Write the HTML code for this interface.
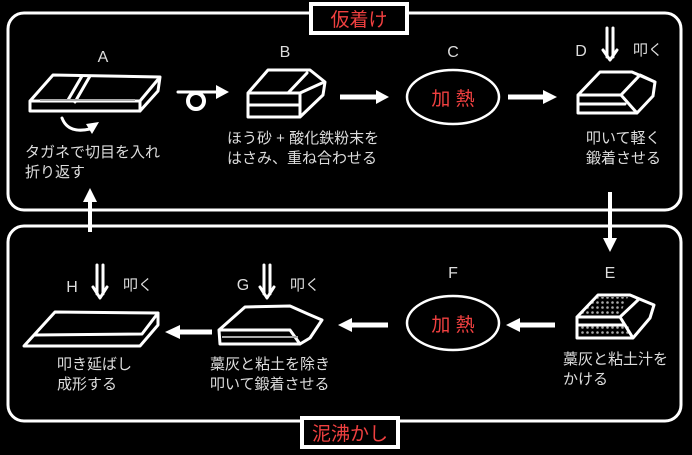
<!DOCTYPE html>
<html><head><meta charset="utf-8"><style>
html,body{margin:0;padding:0;background:#000;}
svg{display:block;}
text{font-family:"Liberation Sans","Noto Sans CJK JP",sans-serif;}
.t{fill:#ddd;font-size:15px;}
.l{fill:#ddd;font-size:16px;}
.r{fill:#f04040;font-size:19px;}
.s{fill:none;stroke:#fff;stroke-width:3;stroke-linejoin:round;stroke-linecap:round;}
</style></head><body>
<svg width="692" height="455" viewBox="0 0 692 455" xmlns="http://www.w3.org/2000/svg">
<defs>
<pattern id="dots" width="5" height="5" patternUnits="userSpaceOnUse"><circle cx="2.5" cy="2.5" r="1.3" fill="#aaa"/></pattern>
</defs>
<rect x="0" y="0" width="692" height="455" fill="#000"/>
<rect x="8" y="13" width="673" height="197" rx="16" fill="none" stroke="#fff" stroke-width="3"/>
<rect x="8" y="226" width="673" height="195" rx="16" fill="none" stroke="#fff" stroke-width="3"/>
<rect x="311" y="4" width="96" height="29" fill="#000" stroke="#fff" stroke-width="4"/>
<text class="r" x="359" y="26" text-anchor="middle">仮着け</text>
<rect x="302" y="418" width="96" height="29" fill="#000" stroke="#fff" stroke-width="4"/>
<text class="r" x="350" y="440" text-anchor="middle">泥沸かし</text>

<line x1="90" y1="232" x2="90" y2="200" stroke="#fff" stroke-width="4"/>
<polygon points="83,202 97,202 90,188" fill="#fff"/>
<line x1="610" y1="192" x2="610" y2="240" stroke="#fff" stroke-width="4"/>
<polygon points="603,238 617,238 610,252" fill="#fff"/>

<!-- A -->
<text class="l" x="103" y="62" text-anchor="middle">A</text>
<path class="s" d="M30,101 L53,75 L160,77 L140,101 Z M30,101 L30,111 L140,111 L140,101 M140,111 L158,91 L160,77"/>
<path class="s" d="M82,76 L68,100 M90,76 L75,102"/>
<line x1="40" y1="100" x2="135" y2="100" stroke="#aaa" stroke-width="2"/>
<path class="s" d="M62,118 Q68,134 90,129"/>
<polygon points="86,124 99,122 92,134" fill="#fff"/>
<text class="t" x="25" y="157">タガネで切目を入れ</text>
<text class="t" x="25" y="177">折り返す</text>

<path class="s" d="M178,92 L220,92" stroke-width="4"/>
<circle cx="196" cy="101" r="8" fill="none" stroke="#fff" stroke-width="4"/>
<polygon points="216,85 229,92 216,99" fill="#fff"/>

<!-- B -->
<text class="l" x="285" y="57" text-anchor="middle">B</text>
<path class="s" d="M248,93 L268,70 L310,70 L325,82 L323,95 L300,117 L248,117 Z M248,93 L300,93 L300,117 M248,105 L300,105 M300,93 L322,83 M288,93 L307,73"/>
<text class="t" x="227" y="143">ほう砂 + 酸化鉄粉末を</text>
<text class="t" x="227" y="163">はさみ、重ね合わせる</text>
<line x1="340" y1="97" x2="378" y2="97" stroke="#fff" stroke-width="5"/>
<polygon points="376,90 389,97 376,104" fill="#fff"/>

<!-- C -->
<text class="l" x="453" y="57" text-anchor="middle">C</text>
<ellipse cx="453" cy="97" rx="46" ry="27" fill="none" stroke="#fff" stroke-width="2.5"/>
<text class="r" x="453" y="105" text-anchor="middle">加 熱</text>
<line x1="508" y1="97" x2="545" y2="97" stroke="#fff" stroke-width="5"/>
<polygon points="543,90 557,97 543,104" fill="#fff"/>

<!-- D -->
<text class="l" x="581" y="56" text-anchor="middle">D</text>
<path class="s" d="M607,28 L607,57 M613,28 L613,57 M603,50 L610,60 L617,50"/>
<text class="t" x="633" y="55">叩く</text>
<path class="s" d="M578,95 L600,72 L632,72 L655,82 L653,96 L637,113 L578,113 Z M578,95 L621,95 L637,113 M578,104 L625,104 M621,95 L640,75 L655,82"/>
<text class="t" x="586" y="143">叩いて軽く</text>
<text class="t" x="586" y="163">鍛着させる</text>

<!-- E -->
<text class="l" x="610" y="278" text-anchor="middle">E</text>
<path d="M579,316 L598,297 L628,297 L619,316 Z" fill="url(#dots)"/>
<rect x="580" y="326" width="50" height="10" fill="url(#dots)"/>
<path class="s" d="M577,317 L598,295 L630,295 L654,305 L650,318 L633,338 L577,338 Z M577,317 L620,317 L633,338 M620,317 L638,300 M577,325 L625,325"/>
<text class="t" x="563" y="364">藁灰と粘土汁を</text>
<text class="t" x="563" y="384">かける</text>
<line x1="518" y1="325" x2="555" y2="325" stroke="#fff" stroke-width="5"/>
<polygon points="520,318 506,325 520,332" fill="#fff"/>

<!-- F -->
<text class="l" x="453" y="278" text-anchor="middle">F</text>
<ellipse cx="453" cy="323" rx="46" ry="27" fill="none" stroke="#fff" stroke-width="2.5"/>
<text class="r" x="453" y="331" text-anchor="middle">加 熱</text>
<line x1="350" y1="325" x2="388" y2="325" stroke="#fff" stroke-width="5"/>
<polygon points="352,318 338,325 352,332" fill="#fff"/>

<!-- G -->
<text class="l" x="243" y="290" text-anchor="middle">G</text>
<path class="s" d="M264,265 L264,294 M270,265 L270,294 M260,287 L267,298 L274,287"/>
<text class="t" x="290" y="290">叩く</text>
<path class="s" d="M219,330 L245,307 L290,306 L308,314 L322,320 L310,338 L300,344 L220,344 Z M219,330 L290,330 L300,344"/>
<line x1="222" y1="337" x2="298" y2="337" stroke="#aaa" stroke-width="2"/>
<text class="t" x="210" y="369">藁灰と粘土を除き</text>
<text class="t" x="210" y="389">叩いて鍛着させる</text>
<line x1="178" y1="332" x2="212" y2="332" stroke="#fff" stroke-width="5"/>
<polygon points="180,325 165,332 180,339" fill="#fff"/>

<!-- H -->
<text class="l" x="72" y="292" text-anchor="middle">H</text>
<path class="s" d="M97,265 L97,294 M103,265 L103,294 M93,287 L100,298 L107,287"/>
<text class="t" x="123" y="290">叩く</text>
<path class="s" d="M24,346 L55,312 L158,313 L158,325 L140,346 Z M35,335 L142,334 L158,313"/>
<text class="t" x="57" y="369">叩き延ばし</text>
<text class="t" x="57" y="389">成形する</text>
</svg>
</body></html>
